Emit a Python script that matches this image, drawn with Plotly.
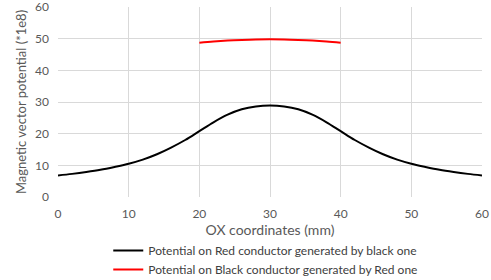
import plotly.graph_objects as go

x_black = [0, 2, 4, 6, 8, 10, 12, 14, 16, 18, 20, 22, 24, 26, 28, 30,
           32, 34, 36, 38, 40, 42, 44, 46, 48, 50, 52, 54, 56, 58, 60]
y_black = [6.8, 7.3, 7.9, 8.6, 9.5, 10.5, 11.8, 13.5, 15.6, 18.0, 20.8, 23.6, 26.0, 27.7, 28.6, 28.9,
           28.6, 27.7, 26.0, 23.6, 20.8, 18.0, 15.6, 13.5, 11.8, 10.5, 9.5, 8.6, 7.9, 7.3, 6.8]
x_red = [20, 22, 24, 26, 28, 30, 32, 34, 36, 38, 40]
y_red = [48.7, 49.1, 49.4, 49.6, 49.75, 49.8, 49.75, 49.6, 49.4, 49.1, 48.7]
tick_vals = [0, 10, 20, 30, 40, 50, 60]

name_black = "Potential on Red conductor generated by black one"
name_red = "Potential on Black conductor generated by Red one"

fig = go.Figure()
fig.add_trace(go.Scatter(x=x_black, y=y_black, mode="lines", name=name_black,
                         line=dict(color="black", width=2, shape="spline")))
fig.add_trace(go.Scatter(x=x_red, y=y_red, mode="lines", name=name_red,
                         line=dict(color="#ff0000", width=2, shape="spline")))

fam = "Lato, Noto Sans, sans-serif"
fig.update_layout(
    width=491, height=280,
    margin=dict(l=58, r=9, t=7, b=83, autoexpand=False),
    paper_bgcolor="white", plot_bgcolor="white",
    font=dict(family=fam, size=12, color="#595959"),
    showlegend=True,
    legend=dict(orientation="v", x=0.49, xanchor="center", y=-0.205, yanchor="top",
                font=dict(family=fam, size=12, color="#404040"),
                tracegroupgap=0, itemwidth=30, bgcolor="rgba(0,0,0,0)"),
    xaxis=dict(range=[-0.001, 60.001], tickvals=tick_vals, showgrid=True,
               gridcolor="#d9d9d9", zeroline=False, showline=False, automargin=False,
               title=dict(text="OX coordinates (mm)", standoff=3,
                          font=dict(size=14, color="#595959")),
               ticks="", ticklabelstandoff=8, ticklabeloverflow="allow"),
    yaxis=dict(range=[-0.001, 60.001], tickvals=tick_vals, showgrid=True,
               gridcolor="#d9d9d9", zeroline=False, showline=False, automargin=False,
               title=dict(text="Magnetic vector potential (*1e8)", standoff=5,
                          font=dict(size=13, color="#595959")),
               ticks="", ticklabelstandoff=8, ticklabeloverflow="allow"),
)
fig.write_html("out.html", config={"displayModeBar": False},
               post_script="document.body.style.margin='0px';document.body.style.padding='0px';")
